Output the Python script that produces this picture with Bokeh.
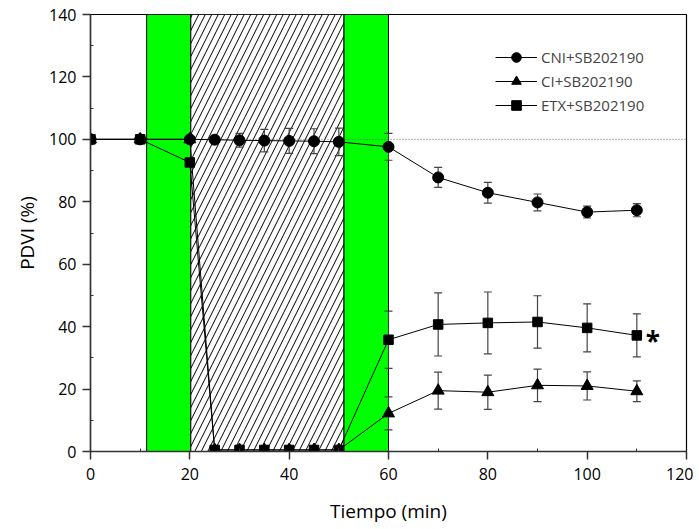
from bokeh.plotting import figure
from bokeh.models import ColumnDataSource, Legend, LegendItem, FixedTicker, Range1d
from bokeh.embed import file_html
from bokeh.resources import INLINE
from bokeh.core.properties import value

# ---- data ----
time = [0, 10, 20, 25, 30, 35, 40, 45, 50, 60, 70, 80, 90, 100, 110]
cni = [100, 100, 100, 99.9, 99.7, 99.6, 99.5, 99.4, 99.2, 97.6, 87.8, 82.9, 79.8, 76.7, 77.3]
cni_err = [0, 0, 0, 0.5, 2.2, 3.6, 4.0, 4.0, 4.4, 4.3, 3.2, 3.3, 2.7, 1.9, 2.1]
ci = [100, 100, 100, 0.5, 0.5, 0.5, 0.5, 0.5, 0.5, 12.2, 19.5, 19.0, 21.2, 21.0, 19.3]
ci_err = [0, 0, 0, 0, 0, 0, 0, 0, 0, 5.3, 5.9, 5.5, 5.2, 4.5, 3.3]
etx = [100, 100, 92.6, 0.5, 0.5, 0.5, 0.5, 0.5, 0.5, 35.8, 40.7, 41.2, 41.5, 39.6, 37.2]
etx_err = [0, 0, 0, 0, 0, 0, 0, 0, 0, 9.2, 10.1, 9.9, 8.4, 7.7, 6.9]

series_names = ["CNI+SB202190", "CI+SB202190", "ETX+SB202190"]
series_markers = ["circle", "triangle", "square"]
series_sizes = [11, 12, 9.5]

# phases (minutes)
green_start = [11.3, 51.0]
green_end = [20.2, 60.0]
hatch_start = [20.2]
hatch_end = [51.0]

baseline = 100
star_x = [113.2]
star_y = [35.5]

x_ticks = [0, 20, 40, 60, 80, 100, 120]
y_ticks = [0, 20, 40, 60, 80, 100, 120, 140]

FONT = "Open Sans"

p = figure(width=693, height=527, output_backend="svg", toolbar_location=None,
           x_range=Range1d(0, 120), y_range=Range1d(0, 140),
           min_border_left=90, min_border_right=7, min_border_top=14, min_border_bottom=76)
p.background_fill_color = "white"
p.border_fill_color = "white"
p.xgrid.visible = False
p.ygrid.visible = False
p.outline_line_color = "black"
p.outline_line_width = 1.2

# phases
p.quad(left=green_start, right=green_end, bottom=0, top=140,
       fill_color="#00FF00", line_color="black", line_width=1)
p.quad(left=hatch_start, right=hatch_end, bottom=0, top=140,
       fill_color="white", line_color="black", line_width=1,
       hatch_pattern="/", hatch_color="black", hatch_scale=13, hatch_weight=1)

# baseline
p.line([0, 120], [baseline, baseline], line_color="#666666", line_width=1, line_dash="1 2")

# error bars
for vals, errs in [(cni, cni_err), (ci, ci_err), (etx, etx_err)]:
    xs = [t for t, e in zip(time, errs) if e > 0]
    lo = [v - e for v, e in zip(vals, errs) if e > 0]
    hi = [v + e for v, e in zip(vals, errs) if e > 0]
    p.segment(x0=xs, y0=lo, x1=xs, y1=hi, line_color="#444444", line_width=1.2)
    p.scatter(xs + xs, lo + hi, marker="dash", size=8, line_color="#444444", line_width=1.2)

items = []
for vals, name, mk, sz in zip([cni, ci, etx], series_names, series_markers, series_sizes):
    ln = p.line(time, vals, line_color="black", line_width=1)
    sc = p.scatter(time, vals, marker=mk, size=sz, fill_color="black", line_color="black")
    items.append(LegendItem(label=name, renderers=[ln, sc]))

p.text(star_x, star_y, text=["*"], text_font=value(FONT), text_font_size="26px",
       text_font_style="bold", text_align="center", text_baseline="middle", text_color="black")

legend = Legend(items=items, location=(405, 334))
legend.background_fill_alpha = 0
legend.border_line_alpha = 0
legend.label_text_font = FONT
legend.label_text_font_size = "15px"
legend.glyph_width = 42
legend.glyph_height = 24
legend.label_height = 24
legend.spacing = 0
legend.padding = 0
legend.margin = 0
legend.label_standoff = 4
p.add_layout(legend, "center")

for ax in (p.xaxis[0], p.yaxis[0]):
    ax.axis_line_color = "#333333"
    ax.axis_line_width = 1.5
    ax.major_tick_line_color = "#333333"
    ax.minor_tick_line_color = "#333333"
    ax.major_tick_line_width = 1.5
    ax.major_tick_out = 8
    ax.major_tick_in = 0
    ax.minor_tick_out = 0
    ax.minor_tick_in = 3
    ax.major_label_text_font = FONT
    ax.major_label_text_font_size = "16px"
    ax.major_label_text_color = "black"
    ax.axis_label_text_font = FONT
    ax.axis_label_text_font_size = "19px"
    ax.axis_label_text_font_style = "normal"
    ax.axis_label_text_color = "black"

p.xaxis.ticker = FixedTicker(ticks=x_ticks, minor_ticks=[10, 30, 50, 70, 90, 110])
p.yaxis.ticker = FixedTicker(ticks=y_ticks, minor_ticks=[10, 30, 50, 70, 90, 110, 130])
p.xaxis.axis_label = "Tiempo (min)"
p.yaxis.axis_label = "PDVI (%)"
p.xaxis.major_label_standoff = 8
p.yaxis.major_label_standoff = 6
p.xaxis.axis_label_standoff = 15
p.yaxis.axis_label_standoff = 6

open("out.html", "w").write(file_html(p, INLINE))
